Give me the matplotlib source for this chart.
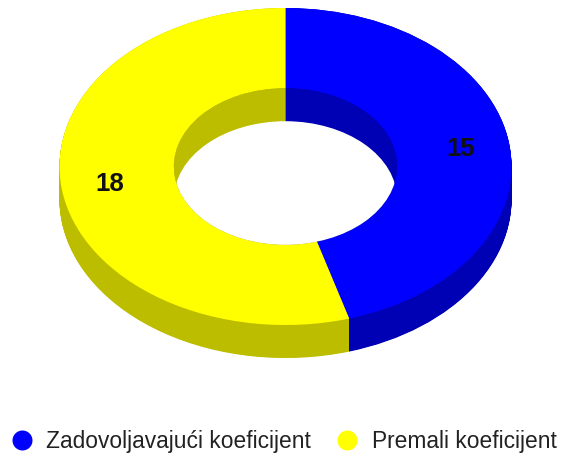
import numpy as np
import matplotlib
matplotlib.use("Agg")
import matplotlib.pyplot as plt
from matplotlib.lines import Line2D
from matplotlib.patches import Ellipse

plt.rcParams['font.family'] = ['Liberation Sans', 'DejaVu Sans']

categories = ["Zadovoljavajući koeficijent", "Premali koeficijent"]
values = [15, 18]
top_colors = ["#0000FF", "#FFFF00"]
side_colors = ["#0000B4", "#BDBD00"]

W, H = 561, 455
RX, RY = 226.0, 158.5      # pixel radii of the outer ellipse
CX, CY = 285.5, 166.5      # pixel centre of the top face
DEPTH = 33.0 / RY          # extrusion depth in data units
HOLE = 0.494               # inner radius relative to the outer one

fig = plt.figure(figsize=(W / 100, H / 100), dpi=100, facecolor="white")
ax = fig.add_axes([0, 0, 1, 1])


def pie_layer(radius, colors, center=(0, 0), **kw):
    return ax.pie(values, colors=colors, startangle=90, counterclock=False,
                  radius=radius, center=center,
                  wedgeprops=kw.pop("wedgeprops", dict(linewidth=0)), **kw)


# Outer wall: the dark pie swept downward through the depth
for d in np.arange(DEPTH, -1e-9, -DEPTH / 66):
    pie_layer(1.0, side_colors, center=(0, -d))

# Top face with its hole
total = sum(values)
pie_layer(1.0, top_colors,
          wedgeprops=dict(width=1 - HOLE, linewidth=0),
          autopct=lambda p: f"{round(p * total / 100)}",
          pctdistance=0.785,
          textprops=dict(fontsize=18.5, fontweight="bold", color="#111111"))

# Inner wall seen through the hole, and the white opening below it
inner, _ = pie_layer(HOLE, side_colors)
opening = Ellipse((0, -DEPTH), 2 * HOLE, 2 * HOLE, facecolor="white", linewidth=0, zorder=5)
ax.add_patch(opening)
clip = Ellipse((0, 0), 2 * HOLE, 2 * HOLE, transform=ax.transData)
opening.set_clip_path(clip)

ax.set_aspect("auto")
ax.set_xlim(-CX / RX, (W - CX) / RX)
ax.set_ylim((CY - H) / RY, CY / RY)
ax.axis("off")

# Legend
handles = [Line2D([], [], linestyle="none", marker="o", markersize=14.4,
                  markerfacecolor=c, markeredgewidth=0) for c in top_colors]
fig.legend(handles, categories, loc="center left",
           bbox_to_anchor=(10.6 / W, 1 - 441.5 / H), ncol=2, frameon=False,
           fontsize=16.4, labelcolor="#222222", handletextpad=0.57,
           columnspacing=1.08, borderpad=0, borderaxespad=0, handlelength=1.0)

fig.savefig("out.png", dpi=100, facecolor="white")
